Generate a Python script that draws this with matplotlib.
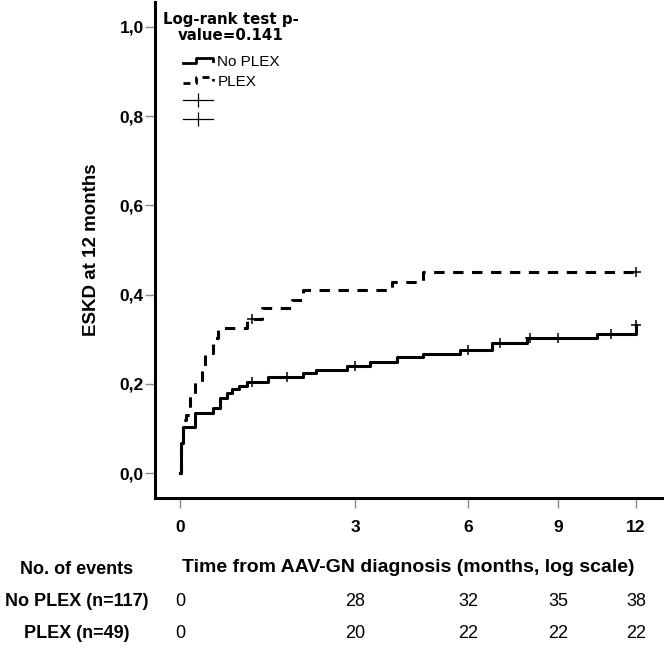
import numpy as np
import matplotlib
matplotlib.use("Agg")
import matplotlib.pyplot as plt
from matplotlib.lines import Line2D
from matplotlib.legend_handler import HandlerLine2D
from matplotlib.transforms import blended_transform_factory

# time axis: tick months and where they sit along the (stretched) axis
tick_months = [0, 3, 6, 9, 12]
tick_pos = [0.0, 175.0, 288.0, 378.0, 456.0]
scale_months = [-1.0] + tick_months + [15.0]
scale_pos = [-58.3] + tick_pos + [534.0]

y_ticks = [0.0, 0.2, 0.4, 0.6, 0.8, 1.0]
y_tick_labels = ["0,0", "0,2", "0,4", "0,6", "0,8", "1,0"]

# cumulative incidence steps, No PLEX
no_plex_t = [0, 0.02, 0.05, 0.26, 0.57, 0.69, 0.81, 0.89, 1.01, 1.15, 1.51,
             2.11, 2.33, 2.87, 3.40, 4.12, 4.81, 5.79, 6.80, 7.97, 10.50, 12.0]
no_plex_y = [0, 0.067, 0.103, 0.135, 0.146, 0.168, 0.179, 0.188, 0.195, 0.204, 0.215,
             0.224, 0.232, 0.240, 0.249, 0.259, 0.267, 0.276, 0.291, 0.303, 0.312, 0.332]
no_plex_cens = [1.23, 1.83, 3.0, 6.0, 7.07, 8.07, 9.0, 11.04, 12.0]

# cumulative incidence steps, PLEX
plex_t = [0, 0.02, 0.05, 0.10, 0.17, 0.26, 0.38, 0.43, 0.57, 0.65, 1.15,
          1.41, 1.92, 2.11, 3.98, 4.81, 12.0]
plex_y = [0, 0.08, 0.119, 0.13, 0.175, 0.204, 0.238, 0.269, 0.303, 0.325, 0.345,
          0.370, 0.388, 0.410, 0.428, 0.451, 0.451]
plex_cens = [1.23, 12.0]

events_no_plex = [0, 28, 32, 35, 38]
events_plex = [0, 20, 22, 22, 22]


def fwd(t):
    return np.interp(t, scale_months, scale_pos)


def inv(p):
    return np.interp(p, scale_pos, scale_months)


def level_at(ts, ys, when):
    idx = np.searchsorted(ts, when, side="right") - 1
    return np.array(ys)[idx]


class StepHandler(HandlerLine2D):
    # little step glyph like the SPSS legend
    def create_artists(self, legend, orig_handle, xdescent, ydescent,
                       width, height, fontsize, trans):
        x0 = -xdescent
        lo = -ydescent + height * 0.25
        hi = -ydescent + height * 0.75
        xs = [x0, x0 + 0.45 * width, x0 + 0.45 * width, x0 + width, x0 + width]
        ys = [lo, lo, hi, hi, lo + 0.2 * height]
        line = Line2D(xs, ys)
        line.update_from(orig_handle)
        line.set_transform(trans)
        return [line]


plt.rcParams["font.family"] = ["Liberation Sans", "DejaVu Sans"]

fig = plt.figure(figsize=(6.64, 6.48), dpi=100)
ax = fig.add_axes([155 / 664, 1 - 498 / 648, 507 / 664, 496 / 648])
ax.set_xscale("function", functions=(fwd, inv))

lw = 2.2
dash = (3.4, 2.8)
ax.step(no_plex_t, no_plex_y, where="post", color="black", lw=lw)
ax.step(plex_t, plex_y, where="post", color="black", lw=lw, dashes=dash)
ax.plot(no_plex_cens, level_at(no_plex_t, no_plex_y, no_plex_cens), "+",
        color="black", ms=7, mew=1.1)
ax.plot(plex_cens, level_at(plex_t, plex_y, plex_cens), "+",
        color="black", ms=7, mew=1.1)

ax.set_xlim(-0.4286, 13.0)
ax.set_ylim(-0.056, 1.056)
ax.set_xticks(tick_months)
ax.set_xticklabels([str(m) for m in tick_months])
ax.set_yticks(y_ticks)
ax.set_yticklabels(y_tick_labels)
for lab in ax.get_xticklabels() + ax.get_yticklabels():
    lab.set_fontweight("bold")
    lab.set_fontsize(12.5)
ax.tick_params(axis="both", color="#8a8a8a", length=7, width=1)
ax.tick_params(axis="x", pad=9)
ax.tick_params(axis="y", pad=1)

for side in ["top", "right"]:
    ax.spines[side].set_visible(False)
for side in ["left", "bottom"]:
    ax.spines[side].set_linewidth(2.2)

ax.set_xlabel("Time from AAV-GN diagnosis (months, log scale)",
              fontsize=14, fontweight="bold", labelpad=17)
ax.set_ylabel("ESKD at 12 months", fontsize=13.5, fontweight="bold", labelpad=14)

ax.text((231 - 155) / 507, (498 - 27.5) / 496, "Log-rank test p-\nvalue=0.141",
        transform=ax.transAxes, ha="center", va="center", fontsize=10.8,
        fontweight="bold", family="DejaVu Sans", linespacing=1.05)

handles = [
    Line2D([], [], color="black", lw=2),
    Line2D([], [], color="black", lw=2, dashes=(2.5, 2.0)),
    Line2D([], [], color="black", lw=0.9, marker="|", ms=10, mew=0.9),
    Line2D([], [], color="black", lw=0.9, marker="|", ms=10, mew=0.9),
]
leg = ax.legend(handles, ["No PLEX", "PLEX", "", ""],
                handler_map={handles[0]: StepHandler(), handles[1]: StepHandler()},
                loc="upper left", bbox_to_anchor=((183 - 155) / 507, (498 - 55) / 496),
                frameon=False, fontsize=11, handlelength=1.95, handletextpad=0.3,
                labelspacing=0.36, borderpad=0, borderaxespad=0, numpoints=1)

# table of events under the axis
row_x = 77 / 664
fig.text(row_x, 1 - 569 / 648, "No. of events", ha="center", va="center",
         fontsize=13, fontweight="bold")
fig.text(row_x, 1 - 601 / 648, "No PLEX (n=117)", ha="center", va="center",
         fontsize=13, fontweight="bold")
fig.text(row_x, 1 - 633 / 648, "PLEX (n=49)", ha="center", va="center",
         fontsize=13, fontweight="bold")
tr = blended_transform_factory(ax.transData, fig.transFigure)
for m, a, b in zip(tick_months, events_no_plex, events_plex):
    ax.text(m, 1 - 601 / 648, str(a), transform=tr, ha="center", va="center",
            fontsize=13, clip_on=False)
    ax.text(m, 1 - 633 / 648, str(b), transform=tr, ha="center", va="center",
            fontsize=13, clip_on=False)

fig.savefig("out.png", dpi=100)
